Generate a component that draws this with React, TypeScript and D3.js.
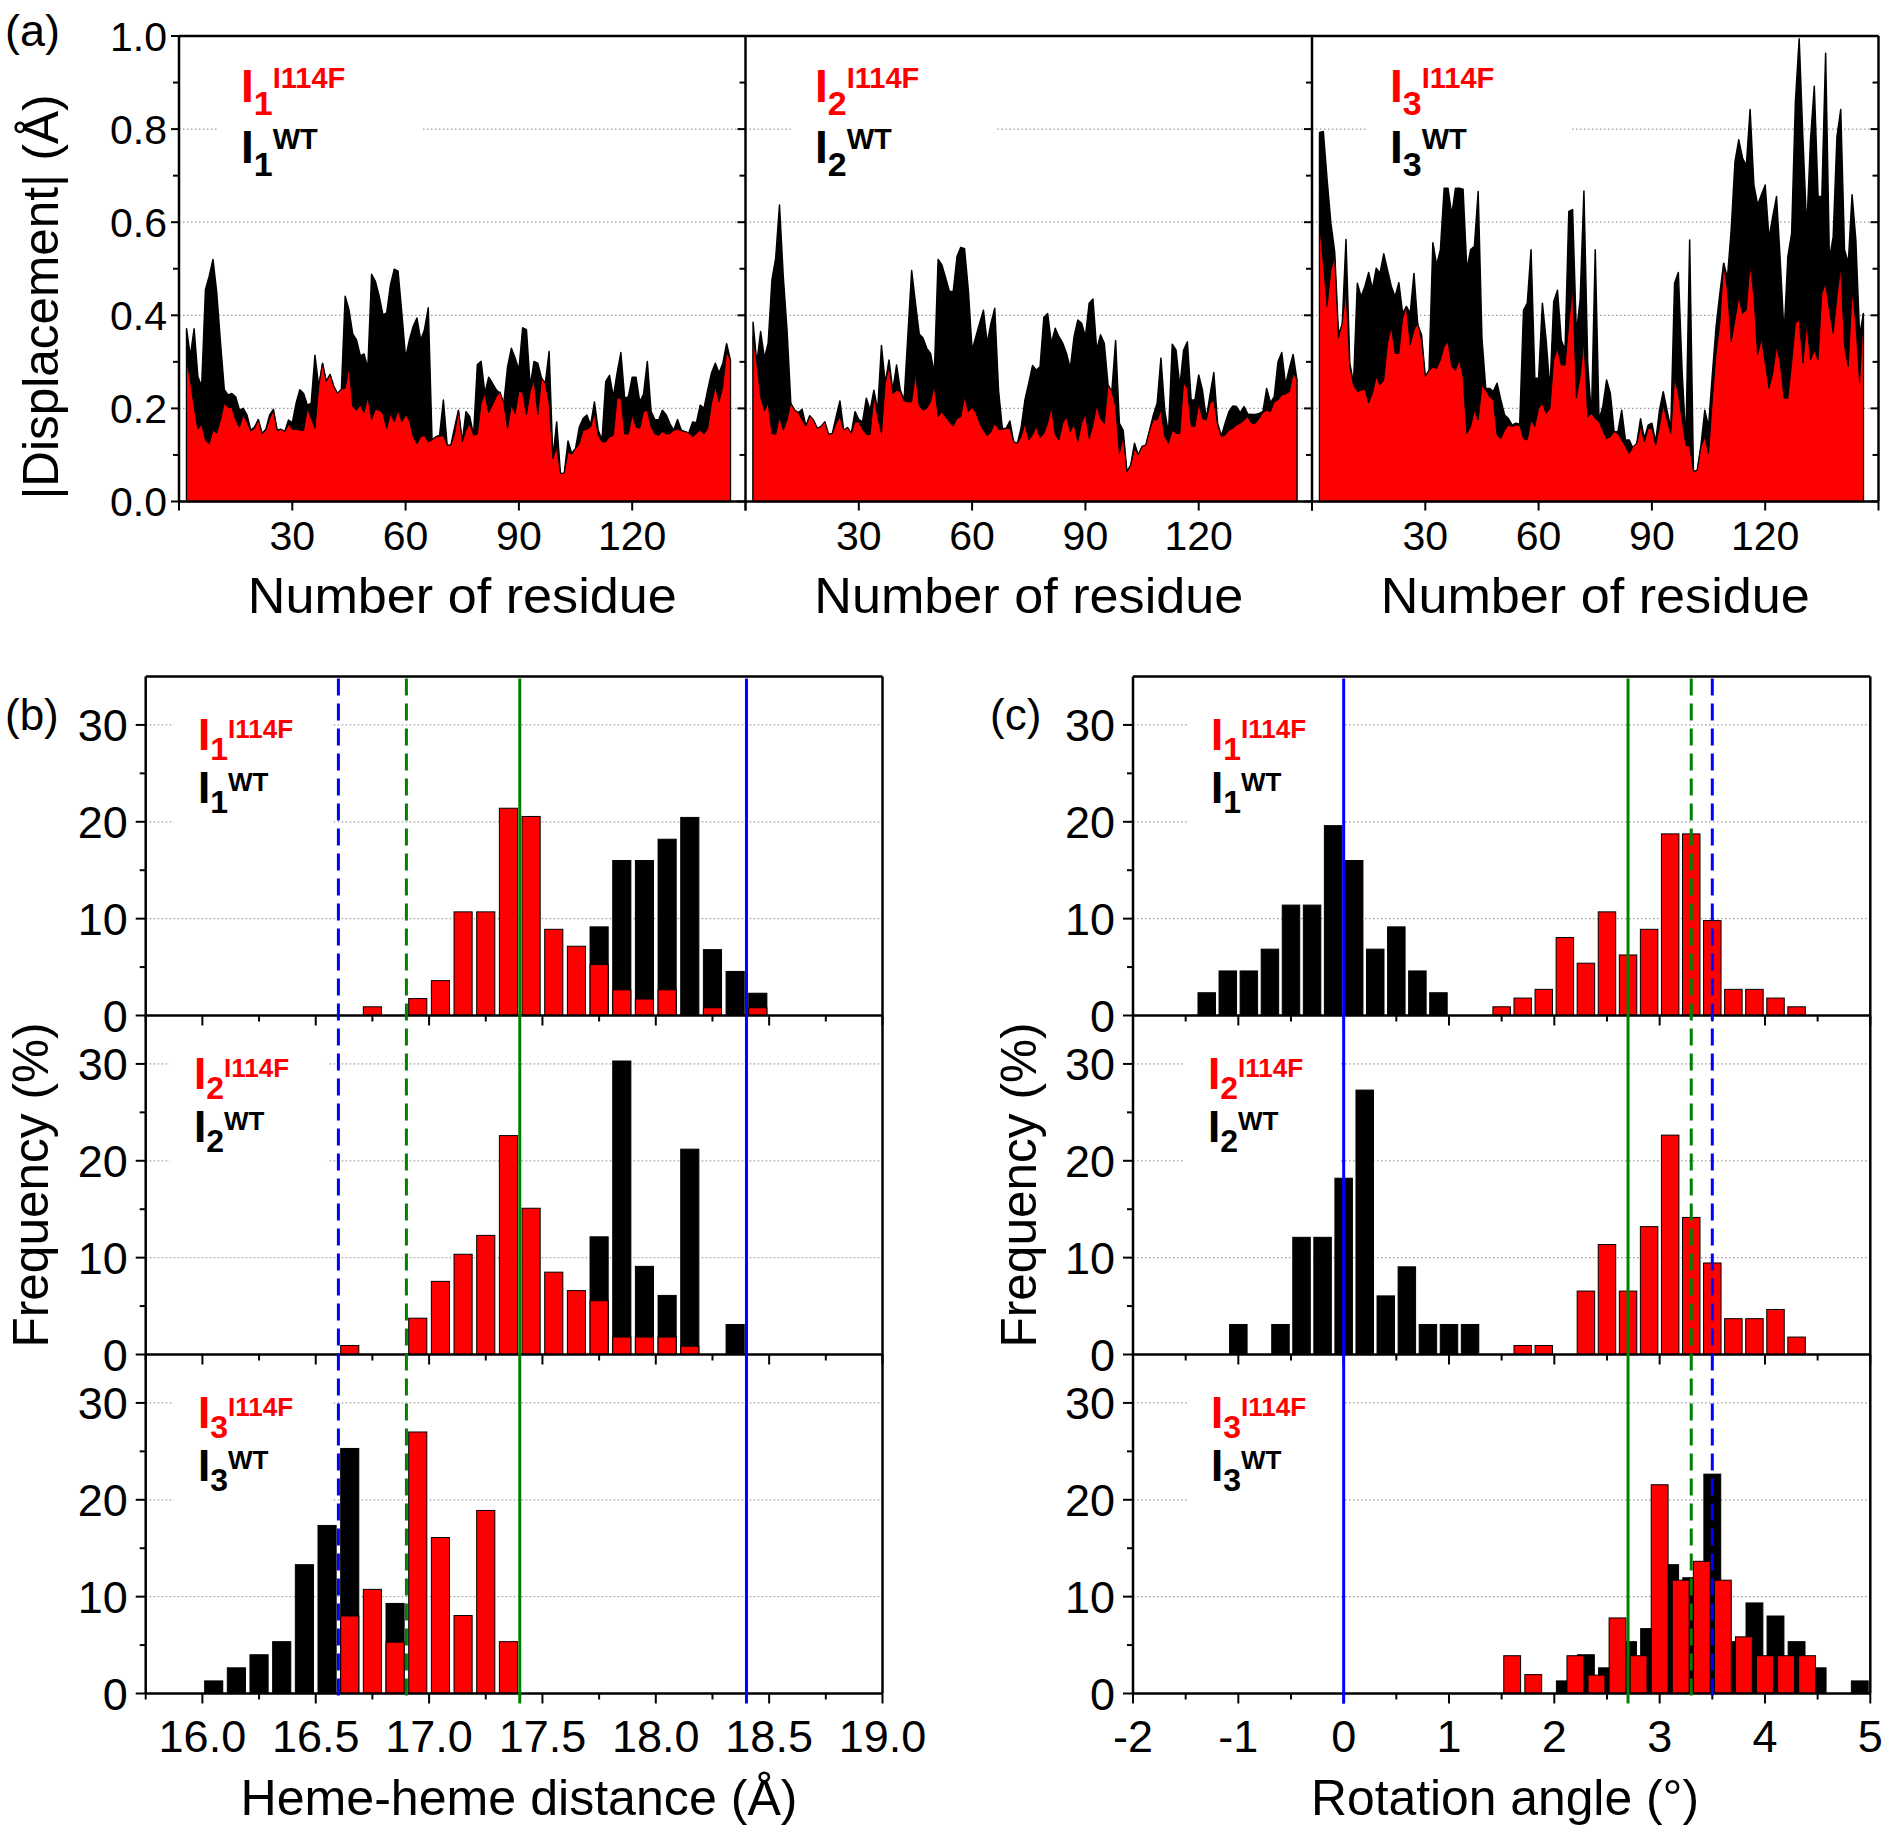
import React from "react";
import * as d3 from "d3";

const FONT = "'Liberation Sans', Arial, Helvetica, sans-serif";
const RED = "#ff0000";
const BLUE = "#0000ff";
const GREEN = "#008000";

// ---------------- Panel (a): |Displacement| per residue ----------------
const residueStart = 2; // first residue plotted
const residueDomain = [0, 150];
const residueTicks = [30, 60, 90, 120];
const dispTicks = [0, 0.2, 0.4, 0.6, 0.8, 1.0];

const dispI1WT = [
  0.371, 0.312, 0.371, 0.268, 0.247, 0.455, 0.484, 0.52, 0.448, 0.34,
  0.24, 0.229, 0.232, 0.225, 0.196, 0.2, 0.186, 0.153, 0.16, 0.176,
  0.146, 0.155, 0.186, 0.198, 0.153, 0.155, 0.15, 0.175, 0.169, 0.211,
  0.24, 0.232, 0.207, 0.211, 0.314, 0.247, 0.297, 0.258, 0.273, 0.247,
  0.232, 0.241, 0.441, 0.412, 0.36, 0.347, 0.313, 0.317, 0.286, 0.488,
  0.473, 0.441, 0.401, 0.405, 0.466, 0.499, 0.495, 0.405, 0.308, 0.347,
  0.376, 0.394, 0.347, 0.369, 0.416, 0.132, 0.139, 0.142, 0.218, 0.121,
  0.121, 0.16, 0.196, 0.128, 0.193, 0.182, 0.142, 0.294, 0.301, 0.232,
  0.267, 0.254, 0.24, 0.232, 0.211, 0.289, 0.329, 0.308, 0.283, 0.373,
  0.369, 0.247, 0.301, 0.297, 0.265, 0.254, 0.322, 0.092, 0.171, 0.06,
  0.06, 0.13, 0.103, 0.114, 0.16, 0.178, 0.186, 0.164, 0.214, 0.153,
  0.132, 0.258, 0.271, 0.225, 0.276, 0.32, 0.222, 0.225, 0.267, 0.267,
  0.214, 0.23, 0.301, 0.193, 0.176, 0.175, 0.196, 0.186, 0.167, 0.153,
  0.176, 0.153, 0.15, 0.147, 0.171, 0.169, 0.207, 0.2, 0.24, 0.276,
  0.297, 0.276, 0.297, 0.339, 0.304,
];
const dispI1MT = [
  0.304, 0.261, 0.204, 0.155, 0.166, 0.132, 0.124, 0.153, 0.147, 0.175,
  0.211, 0.202, 0.202, 0.175, 0.159, 0.186, 0.171, 0.151, 0.157, 0.176,
  0.145, 0.153, 0.178, 0.196, 0.152, 0.155, 0.15, 0.166, 0.155, 0.155,
  0.153, 0.153, 0.2, 0.178, 0.157, 0.247, 0.297, 0.258, 0.273, 0.247,
  0.232, 0.241, 0.243, 0.289, 0.204, 0.196, 0.207, 0.191, 0.225, 0.176,
  0.198, 0.196, 0.189, 0.157, 0.189, 0.171, 0.196, 0.171, 0.186, 0.175,
  0.139, 0.124, 0.139, 0.142, 0.128, 0.132, 0.139, 0.14, 0.142, 0.121,
  0.121, 0.146, 0.196, 0.128, 0.153, 0.167, 0.142, 0.145, 0.211, 0.232,
  0.191, 0.207, 0.225, 0.236, 0.211, 0.157, 0.207, 0.189, 0.237, 0.234,
  0.186, 0.237, 0.261, 0.186, 0.265, 0.254, 0.211, 0.092, 0.117, 0.06,
  0.061, 0.106, 0.101, 0.114, 0.124, 0.153, 0.155, 0.16, 0.189, 0.142,
  0.128, 0.128, 0.139, 0.142, 0.222, 0.222, 0.145, 0.145, 0.186, 0.16,
  0.157, 0.193, 0.196, 0.16, 0.145, 0.142, 0.15, 0.145, 0.146, 0.153,
  0.155, 0.152, 0.15, 0.147, 0.139, 0.146, 0.153, 0.145, 0.157, 0.211,
  0.247, 0.214, 0.247, 0.322, 0.304,
];
const dispI2WT = [
  0.385, 0.297, 0.365, 0.308, 0.34, 0.476, 0.523, 0.637, 0.483, 0.368,
  0.211, 0.196, 0.191, 0.198, 0.162, 0.184, 0.175, 0.157, 0.161, 0.171,
  0.144, 0.146, 0.182, 0.216, 0.153, 0.159, 0.146, 0.193, 0.176, 0.171,
  0.222, 0.196, 0.239, 0.196, 0.335, 0.254, 0.304, 0.239, 0.293, 0.239,
  0.218, 0.358, 0.496, 0.426, 0.36, 0.351, 0.329, 0.318, 0.275, 0.52,
  0.508, 0.48, 0.451, 0.451, 0.526, 0.546, 0.543, 0.454, 0.325, 0.354,
  0.383, 0.411, 0.34, 0.383, 0.415, 0.239, 0.157, 0.157, 0.173, 0.128,
  0.125, 0.159, 0.219, 0.254, 0.292, 0.282, 0.29, 0.396, 0.404, 0.34,
  0.372, 0.354, 0.34, 0.318, 0.286, 0.354, 0.39, 0.383, 0.354, 0.426,
  0.435, 0.325, 0.358, 0.34, 0.25, 0.236, 0.346, 0.168, 0.153, 0.064,
  0.078, 0.125, 0.1, 0.118, 0.121, 0.153, 0.186, 0.211, 0.308, 0.196,
  0.146, 0.338, 0.325, 0.247, 0.325, 0.343, 0.218, 0.218, 0.272, 0.239,
  0.178, 0.229, 0.277, 0.168, 0.141, 0.168, 0.193, 0.205, 0.204, 0.191,
  0.204, 0.188, 0.187, 0.187, 0.189, 0.193, 0.243, 0.212, 0.225, 0.3,
  0.32, 0.25, 0.286, 0.316, 0.262,
];
const dispI2MT = [
  0.354, 0.297, 0.225, 0.195, 0.211, 0.146, 0.144, 0.182, 0.153, 0.175,
  0.211, 0.196, 0.191, 0.175, 0.162, 0.184, 0.175, 0.157, 0.161, 0.171,
  0.144, 0.146, 0.168, 0.182, 0.153, 0.159, 0.146, 0.171, 0.171, 0.155,
  0.144, 0.144, 0.227, 0.182, 0.146, 0.254, 0.29, 0.232, 0.239, 0.236,
  0.216, 0.214, 0.214, 0.275, 0.205, 0.196, 0.2, 0.214, 0.25, 0.182,
  0.193, 0.181, 0.171, 0.162, 0.178, 0.182, 0.225, 0.193, 0.202, 0.191,
  0.168, 0.153, 0.141, 0.15, 0.168, 0.155, 0.155, 0.157, 0.157, 0.128,
  0.125, 0.139, 0.168, 0.132, 0.143, 0.161, 0.137, 0.146, 0.168, 0.204,
  0.143, 0.132, 0.168, 0.182, 0.15, 0.166, 0.128, 0.168, 0.189, 0.135,
  0.164, 0.207, 0.178, 0.168, 0.25, 0.236, 0.204, 0.103, 0.139, 0.064,
  0.078, 0.114, 0.1, 0.118, 0.121, 0.153, 0.176, 0.175, 0.196, 0.139,
  0.125, 0.153, 0.146, 0.146, 0.255, 0.243, 0.162, 0.161, 0.211, 0.178,
  0.175, 0.211, 0.218, 0.164, 0.139, 0.143, 0.153, 0.157, 0.164, 0.168,
  0.175, 0.182, 0.168, 0.168, 0.178, 0.191, 0.196, 0.193, 0.214, 0.218,
  0.229, 0.231, 0.236, 0.275, 0.262,
];
const dispI3WT = [
  0.793, 0.795, 0.691, 0.598, 0.537, 0.361, 0.379, 0.563, 0.297, 0.254,
  0.469, 0.44, 0.462, 0.492, 0.456, 0.501, 0.49, 0.532, 0.497, 0.462,
  0.44, 0.47, 0.404, 0.419, 0.404, 0.49, 0.379, 0.358, 0.268, 0.282,
  0.556, 0.508, 0.541, 0.673, 0.673, 0.616, 0.673, 0.673, 0.671, 0.497,
  0.541, 0.548, 0.666, 0.351, 0.243, 0.243, 0.236, 0.254, 0.218, 0.186,
  0.178, 0.164, 0.168, 0.166, 0.411, 0.426, 0.541, 0.265, 0.265, 0.426,
  0.347, 0.239, 0.429, 0.454, 0.347, 0.325, 0.623, 0.627, 0.361, 0.433,
  0.667, 0.297, 0.182, 0.541, 0.175, 0.204, 0.261, 0.232, 0.15, 0.15,
  0.196, 0.132, 0.132, 0.114, 0.125, 0.178, 0.135, 0.164, 0.168, 0.128,
  0.196, 0.236, 0.196, 0.157, 0.469, 0.492, 0.279, 0.128, 0.562, 0.064,
  0.067, 0.121, 0.196, 0.161, 0.272, 0.376, 0.447, 0.512, 0.48, 0.584,
  0.73, 0.777, 0.738, 0.721, 0.842, 0.68, 0.637, 0.659, 0.68, 0.566,
  0.612, 0.655, 0.515, 0.358, 0.526, 0.576, 0.859, 0.994, 0.777, 0.584,
  0.777, 0.892, 0.655, 0.655, 0.963, 0.519, 0.569, 0.784, 0.842, 0.541,
  0.512, 0.659, 0.562, 0.356, 0.404,
];
const dispI3MT = [
  0.598, 0.512, 0.419, 0.497, 0.526, 0.351, 0.383, 0.454, 0.29, 0.25,
  0.236, 0.239, 0.241, 0.212, 0.232, 0.268, 0.25, 0.261, 0.34, 0.376,
  0.318, 0.318, 0.394, 0.419, 0.336, 0.368, 0.383, 0.347, 0.268, 0.282,
  0.288, 0.286, 0.304, 0.333, 0.343, 0.29, 0.282, 0.304, 0.268, 0.146,
  0.161, 0.196, 0.175, 0.25, 0.239, 0.225, 0.218, 0.143, 0.135, 0.153,
  0.164, 0.161, 0.164, 0.164, 0.135, 0.132, 0.175, 0.161, 0.2, 0.211,
  0.189, 0.2, 0.304, 0.329, 0.293, 0.293, 0.383, 0.462, 0.222, 0.268,
  0.347, 0.182, 0.189, 0.178, 0.171, 0.153, 0.135, 0.139, 0.15, 0.146,
  0.132, 0.118, 0.103, 0.118, 0.125, 0.161, 0.128, 0.157, 0.157, 0.121,
  0.161, 0.207, 0.175, 0.146, 0.265, 0.232, 0.175, 0.121, 0.118, 0.064,
  0.067, 0.118, 0.139, 0.103, 0.218, 0.318, 0.383, 0.512, 0.454, 0.343,
  0.39, 0.44, 0.404, 0.411, 0.512, 0.44, 0.315, 0.351, 0.297, 0.243,
  0.275, 0.333, 0.297, 0.222, 0.222, 0.297, 0.383, 0.39, 0.297, 0.383,
  0.304, 0.325, 0.304, 0.447, 0.469, 0.411, 0.361, 0.44, 0.505, 0.333,
  0.29, 0.454, 0.383, 0.254, 0.404,
];

// ---------------- Panel (b): heme-heme distance histograms ----------------
const distDomain = [15.75, 19.0];
const distTickLabels = [16.0, 16.5, 17.0, 17.5, 18.0, 18.5, 19.0];
const distBins = [
  16.05, 16.15, 16.25, 16.35, 16.45, 16.55, 16.65, 16.75, 16.85, 16.95,
  17.05, 17.15, 17.25, 17.35, 17.45, 17.55, 17.65, 17.75, 17.85, 17.95,
  18.05, 18.15, 18.25, 18.35, 18.45,
];
const distI1WT = [0, 0, 0, 0, 0, 0, 0, 0, 0, 0, 0, 0, 0, 0, 0, 0, 0, 9.15, 16.0, 16.0, 18.2, 20.45, 6.8, 4.55, 2.3];
const distI1MT = [0, 0, 0, 0, 0, 0, 0, 0.9, 0, 1.75, 3.6, 10.7, 10.7, 21.4, 20.55, 8.9, 7.15, 5.25, 2.65, 1.7, 2.65, 0, 0.8, 0, 0.8];
const distI2WT = [0, 0, 0, 0, 0, 0, 0, 0, 0, 0, 0, 0, 0, 0, 0, 0, 0, 12.15, 30.3, 9.1, 6.1, 21.2, 0, 3.1, 0];
const distI2MT = [0, 0, 0, 0, 0, 0, 0.93, 0, 0, 3.75, 7.55, 10.35, 12.3, 22.6, 15.1, 8.5, 6.6, 5.55, 1.8, 1.8, 1.8, 0.85, 0, 0, 0];
const distI3WT = [1.3, 2.65, 4.0, 5.35, 13.3, 17.35, 25.3, 0, 9.3, 0, 0, 0, 0, 0, 0, 0, 0, 0, 0, 0, 0, 0, 0, 0, 0];
const distI3MT = [0, 0, 0, 0, 0, 0, 8.0, 10.75, 5.3, 27.0, 16.1, 8.05, 18.9, 5.35, 0, 0, 0, 0, 0, 0, 0, 0, 0, 0, 0];
const distRefLines = [
  { x: 16.6, color: BLUE, dashed: true },
  { x: 16.9, color: GREEN, dashed: true },
  { x: 17.4, color: GREEN, dashed: false },
  { x: 18.4, color: BLUE, dashed: false },
];

// ---------------- Panel (c): rotation angle histograms ----------------
const rotDomain = [-2, 5];
const rotTickLabels = [-2, -1, 0, 1, 2, 3, 4, 5];
const rotI1WTx = [-1.3, -1.1, -0.9, -0.7, -0.5, -0.3, -0.1, 0.1, 0.3, 0.5, 0.7, 0.9];
const rotI1WT = [2.35, 4.6, 4.6, 6.85, 11.4, 11.4, 19.6, 16.0, 6.85, 9.15, 4.6, 2.35];
const rotI1MTx = [1.5, 1.7, 1.9, 2.1, 2.3, 2.5, 2.7, 2.9, 3.1, 3.3, 3.5, 3.7, 3.9, 4.1, 4.3];
const rotI1MT = [0.9, 1.8, 2.7, 8.05, 5.4, 10.7, 6.25, 8.9, 18.75, 18.75, 9.8, 2.7, 2.7, 1.8, 0.9];
const rotI2WTx = [-1.0, -0.8, -0.6, -0.4, -0.2, 0.0, 0.2, 0.4, 0.6, 0.8, 1.0, 1.2];
const rotI2WT = [3.1, 0, 3.1, 12.1, 12.1, 18.2, 27.3, 6.05, 9.05, 3.1, 3.1, 3.1];
const rotI2MTx = [1.7, 1.9, 2.1, 2.3, 2.5, 2.7, 2.9, 3.1, 3.3, 3.5, 3.7, 3.9, 4.1, 4.3];
const rotI2MT = [0.93, 0.93, 0, 6.55, 11.35, 6.55, 13.2, 22.65, 14.15, 9.45, 3.7, 3.7, 4.65, 1.8];
const rotI3WTx = [2.1, 2.3, 2.5, 2.7, 2.9, 3.1, 3.3, 3.5, 3.7, 3.9, 4.1, 4.3, 4.5, 4.7, 4.9];
const rotI3WT = [1.3, 4.0, 2.65, 5.35, 6.7, 13.3, 11.95, 22.65, 5.35, 9.35, 8.0, 5.35, 2.65, 0, 1.3];
const rotI3MTx = [1.6, 1.8, 2.0, 2.2, 2.4, 2.6, 2.8, 3.0, 3.2, 3.4, 3.6, 3.8, 4.0, 4.2, 4.4];
const rotI3MT = [3.9, 1.95, 0, 3.9, 1.9, 7.8, 3.9, 21.55, 11.7, 13.65, 11.7, 5.85, 3.9, 3.9, 3.9];
const rotRefLines = [
  { x: 0, color: BLUE, dashed: false },
  { x: 2.7, color: GREEN, dashed: false },
  { x: 3.3, color: GREEN, dashed: true },
  { x: 3.5, color: BLUE, dashed: true },
];

const freqDomain = [0, 35];
const freqTicks = [0, 10, 20, 30];
const freqMinor = [5, 15, 25];
const stateNames = ["1", "2", "3"];

// ---------------- Layout ----------------
const W = 1890;
const H = 1833;
const A_TOP = 36;
const A_BOT = 501.5;
const A_LEFT = 179;
const A_W = 566.5;
const A_LABEL_X = [241, 815, 1390];

const H_TOP = 676.5;
const SUB_H = 339;
const B_LEFT = 145.7;
const B_RIGHT = 882.5;
const C_LEFT = 1133;
const C_RIGHT = 1870.3;
const B_LABEL_X = [198, 194, 198];
const C_LABEL_X = [1211, 1208, 1211];

const GRID = { stroke: "#9a9a9a", strokeWidth: 1.2, strokeDasharray: "1.5,2.5" };

function StateLabel({ x, y, idx, big, sub, sup, subDy, supDy, line }) {
  return (
    <g fontFamily={FONT} fontWeight="bold">
      <text x={x} y={y} fill={RED}>
        <tspan fontSize={big}>I</tspan>
        <tspan fontSize={sub} dy={subDy}>{idx}</tspan>
        <tspan fontSize={sup} dy={supDy}>I114F</tspan>
      </text>
      <text x={x} y={y + line} fill="#000">
        <tspan fontSize={big}>I</tspan>
        <tspan fontSize={sub} dy={subDy}>{idx}</tspan>
        <tspan fontSize={sup} dy={supDy}>WT</tspan>
      </text>
    </g>
  );
}

function PanelA() {
  const y = d3.scaleLinear().domain([0, 1]).range([A_BOT, A_TOP]);
  const series = [
    [dispI1WT, dispI1MT],
    [dispI2WT, dispI2MT],
    [dispI3WT, dispI3MT],
  ];
  const minor = d3.range(0, 11).map((i) => i / 10);
  return (
    <g>
      {series.map(([wt, mt], p) => {
        const x0 = A_LEFT + p * A_W;
        const x = d3.scaleLinear().domain(residueDomain).range([x0, x0 + A_W]);
        const area = d3
          .area<number>()
          .x((_, i) => x(residueStart + i))
          .y0(y(0))
          .y1((d) => y(d));
        const lx = A_LABEL_X[p];
        return (
          <g key={p}>
            {[0.2, 0.4, 0.6, 0.8].map((t) => (
              <line key={t} x1={x0} x2={x0 + A_W} y1={y(t)} y2={y(t)} {...GRID} />
            ))}
            <rect x={lx - 24} y={48} width={206} height={125} fill="#fff" />
            <path d={area(wt) || ""} fill="#000" stroke="#000" strokeWidth={1.5} strokeLinejoin="round" />
            <path d={area(mt) || ""} fill={RED} stroke="#000" strokeWidth={1} strokeLinejoin="round" />
            {residueTicks.concat([0, 150]).map((t) => (
              <line key={t} x1={x(t)} x2={x(t)} y1={A_BOT} y2={A_BOT + 9} stroke="#000" strokeWidth={2} />
            ))}
            {residueTicks.map((t) => (
              <text key={t} x={x(t)} y={550} fontSize={41} fontFamily={FONT} textAnchor="middle">
                {t}
              </text>
            ))}
            <text
              x={x0 + A_W / 2}
              y={613}
              fontSize={50}
              fontFamily={FONT}
              textAnchor="middle"
              textLength={429}
              lengthAdjust="spacingAndGlyphs"
            >
              Number of residue
            </text>
            <StateLabel x={lx} y={102} idx={stateNames[p]} big={46} sub={34} sup={29} subDy={13} supDy={-27} line={61} />
          </g>
        );
      })}
      {[0, 1, 2, 3].map((b) => {
        const bx = A_LEFT + b * A_W;
        return (
          <g key={b}>
            <line x1={bx} x2={bx} y1={A_TOP} y2={A_BOT} stroke="#000" strokeWidth={2.5} />
            {minor.map((t, i) => (
              <line
                key={i}
                x1={bx - (i % 2 === 0 ? 8 : 6)}
                x2={bx}
                y1={y(t)}
                y2={y(t)}
                stroke="#000"
                strokeWidth={2}
              />
            ))}
          </g>
        );
      })}
      <line x1={A_LEFT} x2={A_LEFT + 3 * A_W} y1={A_TOP} y2={A_TOP} stroke="#000" strokeWidth={2.5} />
      <line x1={A_LEFT} x2={A_LEFT + 3 * A_W} y1={A_BOT} y2={A_BOT} stroke="#000" strokeWidth={2.5} />
      {dispTicks.map((t) => (
        <text key={t} x={167} y={y(t)} dy="0.36em" fontSize={41} fontFamily={FONT} textAnchor="end">
          {d3.format(".1f")(t)}
        </text>
      ))}
      <text
        transform={`translate(40,297) rotate(-90)`}
        dy="0.36em"
        fontSize={50}
        fontFamily={FONT}
        textAnchor="middle"
        textLength={405}
        lengthAdjust="spacingAndGlyphs"
      >
        |Displacement| (Å)
      </text>
      <text x={5} y={46} fontSize={45} fontFamily={FONT}>
        (a)
      </text>
    </g>
  );
}

type BarSet = { x: number[]; v: number[]; color: string; width: number };

function HistPanel({
  left,
  right,
  domain,
  subs,
  refLines,
  labelX,
  tickLabels,
  majorStep,
  minorStep,
  fmt,
  title,
  titleX,
  titleLen,
  yTitleX,
  letter,
  letterX,
}) {
  const x = d3.scaleLinear().domain(domain).range([left, right]);
  const bottom = H_TOP + 3 * SUB_H;
  const nMinor = Math.round((domain[1] - domain[0]) / minorStep);
  const tickVals = d3.range(0, nMinor + 1).map((i) => domain[0] + i * minorStep);
  return (
    <g>
      {subs.map((sets: BarSet[], k: number) => {
        const base = H_TOP + (k + 1) * SUB_H;
        const y = d3.scaleLinear().domain(freqDomain).range([base, base - SUB_H]);
        const lx = labelX[k];
        return (
          <g key={k}>
            {[10, 20, 30].map((t) => (
              <line key={t} x1={left} x2={right} y1={y(t)} y2={y(t)} {...GRID} />
            ))}
            <rect x={lx - 24} y={base - SUB_H + 23} width={157} height={140} fill="#fff" />
            {sets.map((s, si) =>
              s.x.map((cx, i) =>
                s.v[i] > 0 ? (
                  <rect
                    key={si + "-" + i}
                    x={x(cx - s.width / 2)}
                    y={y(s.v[i])}
                    width={x(s.width) - x(0)}
                    height={y(0) - y(s.v[i])}
                    fill={s.color}
                    stroke="#000"
                    strokeWidth={1}
                  />
                ) : null
              )
            )}
            <line x1={left} x2={right} y1={base} y2={base} stroke="#000" strokeWidth={2.5} />
            {tickVals.map((t, i) => {
              const major = Math.abs(t / majorStep - Math.round(t / majorStep)) < 1e-6;
              return (
                <line
                  key={i}
                  x1={x(t)}
                  x2={x(t)}
                  y1={base}
                  y2={base + (major ? 10 : 6)}
                  stroke="#000"
                  strokeWidth={2}
                />
              );
            })}
            {freqTicks.map((t) => (
              <g key={t}>
                <line x1={left - 10} x2={left} y1={y(t)} y2={y(t)} stroke="#000" strokeWidth={2} />
                <text x={left - 18} y={y(t)} dy="0.36em" fontSize={45} fontFamily={FONT} textAnchor="end">
                  {t}
                </text>
              </g>
            ))}
            {freqMinor.map((t) => (
              <line key={t} x1={left - 6} x2={left} y1={y(t)} y2={y(t)} stroke="#000" strokeWidth={2} />
            ))}
            <StateLabel x={lx} y={base - SUB_H + 73.5} idx={stateNames[k]} big={44} sub={32} sup={26} subDy={10} supDy={-22} line={53} />
          </g>
        );
      })}
      {refLines.map((r, i) => (
        <line
          key={i}
          x1={x(r.x)}
          x2={x(r.x)}
          y1={H_TOP + 2}
          y2={bottom + 10}
          stroke={r.color}
          strokeWidth={3}
          strokeDasharray={r.dashed ? "17,8" : undefined}
        />
      ))}
      <line x1={left} x2={left} y1={H_TOP} y2={bottom} stroke="#000" strokeWidth={2.5} />
      <line x1={right} x2={right} y1={H_TOP} y2={bottom} stroke="#000" strokeWidth={2.5} />
      <line x1={left} x2={right} y1={H_TOP} y2={H_TOP} stroke="#000" strokeWidth={2.5} />
      {tickLabels.map((t) => (
        <text key={t} x={x(t)} y={1752} fontSize={45} fontFamily={FONT} textAnchor="middle">
          {fmt(t)}
        </text>
      ))}
      <text
        x={titleX}
        y={1815}
        fontSize={50}
        fontFamily={FONT}
        textAnchor="middle"
        textLength={titleLen}
        lengthAdjust="spacingAndGlyphs"
      >
        {title}
      </text>
      <text
        transform={`translate(${yTitleX},${(H_TOP + bottom) / 2}) rotate(-90)`}
        dy="0.36em"
        fontSize={50}
        fontFamily={FONT}
        textAnchor="middle"
        textLength={325}
        lengthAdjust="spacingAndGlyphs"
      >
        Frequency (%)
      </text>
      <text x={letterX} y={730} fontSize={44} fontFamily={FONT}>
        {letter}
      </text>
    </g>
  );
}

export default function App() {
  const bSubs: BarSet[][] = [
    [
      { x: distBins, v: distI1WT, color: "#000", width: 0.08 },
      { x: distBins, v: distI1MT, color: RED, width: 0.08 },
    ],
    [
      { x: distBins, v: distI2WT, color: "#000", width: 0.08 },
      { x: distBins, v: distI2MT, color: RED, width: 0.08 },
    ],
    [
      { x: distBins, v: distI3WT, color: "#000", width: 0.08 },
      { x: distBins, v: distI3MT, color: RED, width: 0.08 },
    ],
  ];
  const cSubs: BarSet[][] = [
    [
      { x: rotI1WTx, v: rotI1WT, color: "#000", width: 0.166 },
      { x: rotI1MTx, v: rotI1MT, color: RED, width: 0.166 },
    ],
    [
      { x: rotI2WTx, v: rotI2WT, color: "#000", width: 0.166 },
      { x: rotI2MTx, v: rotI2MT, color: RED, width: 0.166 },
    ],
    [
      { x: rotI3WTx, v: rotI3WT, color: "#000", width: 0.16 },
      { x: rotI3MTx, v: rotI3MT, color: RED, width: 0.16 },
    ],
  ];
  return (
    <svg
      width={W}
      height={H}
      viewBox={`0 0 ${W} ${H}`}
      style={{ position: "absolute", left: 0, top: 0, background: "#fff" }}
    >
      <rect x={0} y={0} width={W} height={H} fill="#fff" />
      <PanelA />
      <HistPanel
        left={B_LEFT}
        right={B_RIGHT}
        domain={distDomain}
        subs={bSubs}
        refLines={distRefLines}
        labelX={B_LABEL_X}
        tickLabels={distTickLabels}
        majorStep={0.5}
        minorStep={0.25}
        fmt={d3.format(".1f")}
        title="Heme-heme distance (Å)"
        titleX={519}
        titleLen={557}
        yTitleX={30}
        letter="(b)"
        letterX={5}
      />
      <HistPanel
        left={C_LEFT}
        right={C_RIGHT}
        domain={rotDomain}
        subs={cSubs}
        refLines={rotRefLines}
        labelX={C_LABEL_X}
        tickLabels={rotTickLabels}
        majorStep={1}
        minorStep={0.5}
        fmt={(t: number) => String(t)}
        title="Rotation angle (°)"
        titleX={1505}
        titleLen={388}
        yTitleX={1018}
        letter="(c)"
        letterX={990}
      />
    </svg>
  );
}
